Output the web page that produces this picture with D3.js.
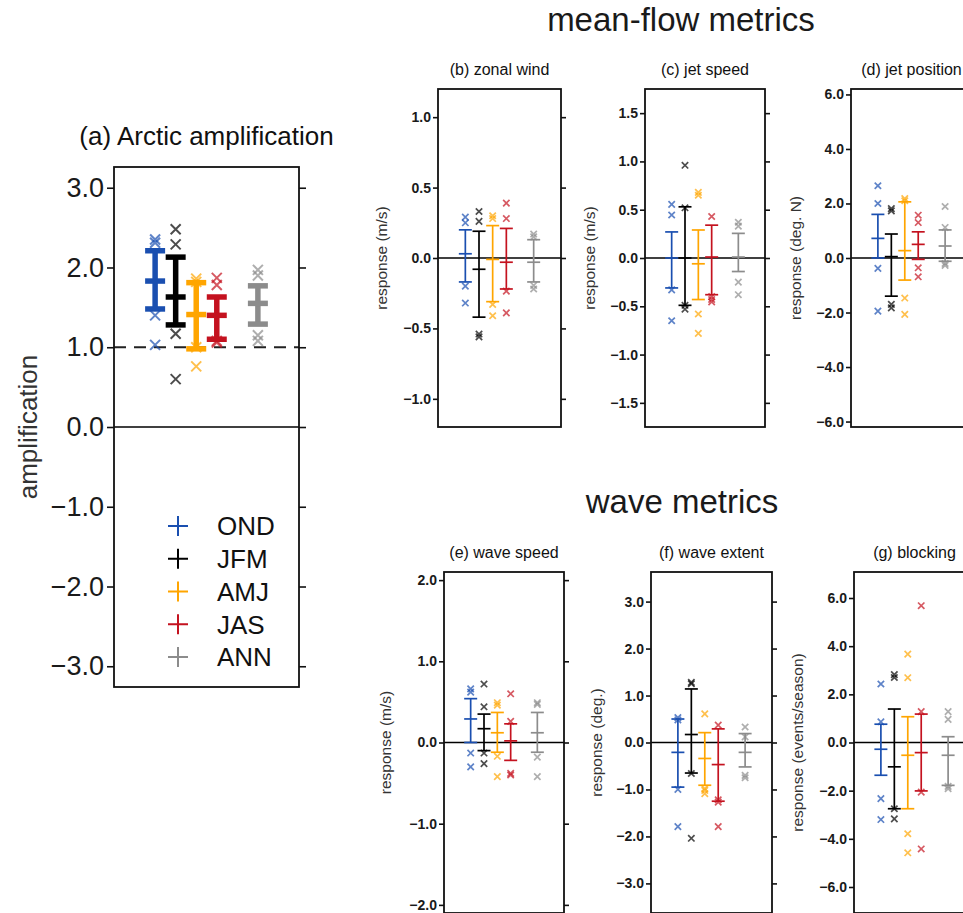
<!DOCTYPE html>
<html>
<head>
<meta charset="utf-8">
<script src="https://cdn.jsdelivr.net/npm/d3@7"></script>
<style>
  body { margin: 0; background: #fff; }
  text { font-family: "Liberation Sans", Arial, Helvetica, sans-serif; }
</style>
</head>
<body>
<div id="chart"></div>
<script>
// seasons and where they sit along the (hidden) x axis
var seasons = ["OND", "JFM", "AMJ", "JAS", "ANN"];
var seasonX = [0, 1, 2, 3, 5];
var seasonColors = ["#1a4fb0", "#000000", "#ffa500", "#c4121f", "#8c8c8c"];

// (a) Arctic amplification
var ampMean = [1.83, 1.63, 1.41, 1.40, 1.55];
var ampLow  = [1.48, 1.28, 0.98, 1.10, 1.29];
var ampHigh = [2.21, 2.13, 1.81, 1.63, 1.77];
var ampPts  = [[2.35, 2.31, 1.40, 1.03], [2.48, 2.29, 1.17, 0.60], [1.86, 1.82, 1.00, 0.76], [1.87, 1.78, 1.08, 1.06], [1.97, 1.90, 1.15, 1.08]];
var ampTicks = [-3, -2, -1, 0, 1, 2, 3];

// (b) zonal wind
var windMean = [0.03, -0.08, -0.01, -0.03, -0.03];
var windLow  = [-0.17, -0.42, -0.31, -0.22, -0.17];
var windHigh = [0.20, 0.19, 0.23, 0.21, 0.13];
var windPts  = [[0.29, 0.25, -0.20, -0.32], [0.33, 0.26, -0.54, -0.56], [0.30, 0.28, -0.33, -0.41], [0.39, 0.28, -0.235, -0.39], [0.17, 0.15, -0.195, -0.22]];
var windTicks = [-1, -0.5, 0, 0.5, 1];

// (c) jet speed
var jetSpdMean = [0.0, 0.0, -0.06, 0.01, 0.01];
var jetSpdLow  = [-0.31, -0.49, -0.43, -0.38, -0.14];
var jetSpdHigh = [0.27, 0.53, 0.29, 0.34, 0.255];
var jetSpdPts  = [[0.555, 0.445, -0.33, -0.65], [0.96, 0.52, -0.49, -0.53], [0.68, 0.65, -0.58, -0.78], [0.43, -0.40, -0.43, -0.455], [0.37, 0.33, -0.25, -0.38]];
var jetSpdTicks = [-1.5, -1, -0.5, 0, 0.5, 1, 1.5];

// (d) jet position
var jetPosMean = [0.72, 0.05, 0.27, 0.50, 0.44];
var jetPosLow  = [0.0, -1.40, -0.81, -0.05, -0.12];
var jetPosHigh = [1.60, 0.88, 2.06, 0.96, 1.03];
var jetPosPts  = [[2.65, 2.0, -0.38, -1.95], [1.81, 1.73, -1.70, -1.83], [2.18, 2.10, -1.47, -2.07], [1.57, 1.30, -0.36, -0.69], [1.89, 1.12, -0.20, -0.27]];
var jetPosTicks = [-6, -4, -2, 0, 2, 4, 6];

// (e) wave speed
var waveSpdMean = [0.29, 0.17, 0.12, 0.02, 0.12];
var waveSpdLow  = [0.0, -0.10, -0.12, -0.22, -0.12];
var waveSpdHigh = [0.54, 0.35, 0.37, 0.23, 0.37];
var waveSpdPts  = [[0.66, 0.62, -0.13, -0.30], [0.72, 0.44, -0.13, -0.26], [0.49, 0.46, -0.17, -0.42], [0.60, 0.26, -0.38, -0.40], [0.49, 0.47, -0.18, -0.42]];
var waveSpdTicks = [-2, -1, 0, 1, 2];

// (f) wave extent
var waveExtMean = [-0.21, 0.17, -0.34, -0.47, -0.21];
var waveExtLow  = [-0.95, -0.65, -0.91, -1.25, -0.52];
var waveExtHigh = [0.50, 1.14, 0.21, 0.29, 0.19];
var waveExtPts  = [[0.53, 0.48, -1.0, -1.79], [1.28, 1.25, -0.66, -2.04], [0.61, -0.98, -1.02, -1.09], [0.37, -1.22, -1.27, -1.79], [0.33, 0.12, -0.70, -0.75]];
var waveExtTicks = [-3, -2, -1, 0, 1, 2, 3];

// (g) blocking
var blockMean = [-0.28, -1.01, -0.53, -0.42, -0.53];
var blockLow  = [-1.36, -2.75, -2.75, -2.01, -1.78];
var blockHigh = [0.76, 1.39, 1.07, 1.18, 0.24];
var blockPts  = [[2.43, 0.86, -2.33, -3.20], [2.82, 2.70, -3.17, -2.75], [3.67, 2.69, -3.79, -4.58], [5.68, 1.28, -2.06, -4.42], [1.28, 0.96, -1.82, -1.92]];
var blockTicks = [-6, -4, -2, 0, 2, 4, 6];

var svg = d3.select("#chart").append("svg")
    .attr("width", 963)
    .attr("height", 913);

var big = {tick: 7, pad: 3, fs: 27, bold: false, lw: 5.5, cap: 10, cross: 5, crossW: 2, border: 1.8, titleFs: 26, labelFs: 26, titleBold: false};
var small = {tick: 5, pad: 2, fs: 14, bold: true, lw: 1.7, cap: 6.5, cross: 3.2, crossW: 1.7, border: 1.8, titleFs: 16, labelFs: 15.5, titleBold: false};

var panels = [
    {st: big, x0: 114, x1: 299, y0: 167, y1: 687, domain: [-3.26, 3.26], ticks: ampTicks, mean: ampMean, lo: ampLow, hi: ampHigh, pts: ampPts,
     title: "(a) Arctic amplification", titleY: 145, ylabel: "amplification", labelX: 28, dashed: 1},
    {st: small, x0: 438, x1: 561, y0: 89, y1: 427, domain: [-1.2, 1.2], ticks: windTicks, mean: windMean, lo: windLow, hi: windHigh, pts: windPts,
     title: "(b) zonal wind", titleY: 75, ylabel: "response (m/s)", labelX: 382},
    {st: small, x0: 645, x1: 765, y0: 89, y1: 427, domain: [-1.75, 1.75], ticks: jetSpdTicks, mean: jetSpdMean, lo: jetSpdLow, hi: jetSpdHigh, pts: jetSpdPts,
     title: "(c) jet speed", titleY: 75, ylabel: "response (m/s)", labelX: 590},
    {st: small, x0: 851, x1: 972, y0: 89, y1: 427, domain: [-6.2, 6.2], ticks: jetPosTicks, mean: jetPosMean, lo: jetPosLow, hi: jetPosHigh, pts: jetPosPts,
     title: "(d) jet position", titleY: 75, ylabel: "response (deg. N)", labelX: 796},
    {st: small, x0: 444, x1: 564, y0: 572, y1: 913, domain: [-2.1, 2.1], ticks: waveSpdTicks, mean: waveSpdMean, lo: waveSpdLow, hi: waveSpdHigh, pts: waveSpdPts,
     title: "(e) wave speed", titleY: 558, ylabel: "response (m/s)", labelX: 386},
    {st: small, x0: 651, x1: 772, y0: 572, y1: 913, domain: [-3.63, 3.63], ticks: waveExtTicks, mean: waveExtMean, lo: waveExtLow, hi: waveExtHigh, pts: waveExtPts,
     title: "(f) wave extent", titleY: 558, ylabel: "response (deg.)", labelX: 597},
    {st: small, x0: 854, x1: 975, y0: 572, y1: 913, domain: [-7.08, 7.08], ticks: blockTicks, mean: blockMean, lo: blockLow, hi: blockHigh, pts: blockPts,
     title: "(g) blocking", titleY: 558, ylabel: "response (events/season)", labelX: 798}
];

panels.forEach(drawPanel);

function drawPanel(p) {
    var s = p.st;
    var x = d3.scaleLinear().domain([-2, 7]).range([p.x0, p.x1]);
    var y = d3.scaleLinear().domain(p.domain).range([p.y1, p.y0]);
    var g = svg.append("g");

    // left axis with labels, right axis ticks only
    g.append("g")
        .attr("transform", "translate(" + p.x0 + ",0)")
        .call(d3.axisLeft(y).tickValues(p.ticks).tickSize(s.tick).tickPadding(s.pad).tickFormat(d3.format(".1f")))
        .call(function(a) { a.select(".domain").remove(); })
        .call(function(a) {
            a.selectAll("line").attr("stroke", "#111").attr("stroke-width", 1.6);
            a.selectAll("text")
                .attr("fill", "#1a1a1a")
                .style("font-size", s.fs + "px")
                .style("font-weight", s.bold ? "bold" : "normal")
                .style("font-family", '"Liberation Sans", Arial, sans-serif');
        });
    g.append("g")
        .attr("transform", "translate(" + p.x1 + ",0)")
        .call(d3.axisRight(y).tickValues(p.ticks).tickSize(s.tick).tickFormat(""))
        .call(function(a) { a.select(".domain").remove(); })
        .call(function(a) { a.selectAll("line").attr("stroke", "#111").attr("stroke-width", 1.6); });

    // zero line and the dashed reference line
    g.append("line")
        .attr("x1", p.x0).attr("x2", p.x1)
        .attr("y1", y(0)).attr("y2", y(0))
        .attr("stroke", "#000").attr("stroke-width", 1.6);
    if (p.dashed !== undefined) {
        g.append("line")
            .attr("x1", p.x0).attr("x2", p.x1)
            .attr("y1", y(p.dashed)).attr("y2", y(p.dashed))
            .attr("stroke", "#222").attr("stroke-width", 1.8)
            .attr("stroke-dasharray", "12,8");
    }

    // individual members as crosses
    seasons.forEach(function(season, i) {
        g.selectAll(null).data(p.pts[i]).enter().append("path")
            .attr("transform", function(d) { return "translate(" + x(seasonX[i]) + "," + y(d) + ")"; })
            .attr("d", "M" + (-s.cross) + "," + (-s.cross) + "L" + s.cross + "," + s.cross +
                       "M" + (-s.cross) + "," + s.cross + "L" + s.cross + "," + (-s.cross))
            .attr("fill", "none")
            .attr("stroke", seasonColors[i])
            .attr("stroke-width", s.crossW)
            .attr("opacity", 0.7);
    });

    // error bars: range and mean
    var bars = g.selectAll(".bar").data(seasons).enter().append("g")
        .attr("stroke", function(d, i) { return seasonColors[i]; })
        .attr("stroke-width", s.lw);
    bars.append("line")
        .attr("x1", function(d, i) { return x(seasonX[i]); })
        .attr("x2", function(d, i) { return x(seasonX[i]); })
        .attr("y1", function(d, i) { return y(p.lo[i]); })
        .attr("y2", function(d, i) { return y(p.hi[i]); });
    [p.lo, p.mean, p.hi].forEach(function(arr) {
        bars.append("line")
            .attr("x1", function(d, i) { return x(seasonX[i]) - s.cap; })
            .attr("x2", function(d, i) { return x(seasonX[i]) + s.cap; })
            .attr("y1", function(d, i) { return y(arr[i]); })
            .attr("y2", function(d, i) { return y(arr[i]); });
    });

    // panel box
    g.append("rect")
        .attr("x", p.x0).attr("y", p.y0)
        .attr("width", p.x1 - p.x0).attr("height", p.y1 - p.y0)
        .attr("fill", "none").attr("stroke", "#111").attr("stroke-width", s.border);

    // titles
    g.append("text")
        .attr("x", (p.x0 + p.x1) / 2).attr("y", p.titleY)
        .attr("text-anchor", "middle")
        .attr("fill", "#111")
        .style("font-size", s.titleFs + "px")
        .style("font-weight", s.titleBold ? "bold" : "normal")
        .text(p.title);
    g.append("text")
        .attr("transform", "translate(" + p.labelX + "," + y(0) + ") rotate(-90)")
        .attr("text-anchor", "middle")
        .attr("dy", "0.35em")
        .attr("fill", "#333")
        .style("font-size", s.labelFs + "px")
        .text(p.ylabel);
}

// legend inside panel (a)
var legend = svg.append("g");
var legendY = d3.scalePoint().domain(seasons).range([526, 657]);
seasons.forEach(function(season, i) {
    var cy = legendY(season);
    legend.append("path")
        .attr("d", "M168," + cy + "H188M178," + (cy - 10) + "V" + (cy + 10))
        .attr("stroke", seasonColors[i]).attr("stroke-width", 2);
    legend.append("text")
        .attr("x", 217).attr("y", cy)
        .attr("dy", "0.36em")
        .attr("fill", "#111")
        .style("font-size", "26px")
        .text(season);
});

// group headings
svg.append("text")
    .attr("x", 681).attr("y", 31)
    .attr("text-anchor", "middle")
    .attr("fill", "#1a1a1a")
    .style("font-size", "33px")
    .text("mean-flow metrics");
svg.append("text")
    .attr("x", 682).attr("y", 513)
    .attr("text-anchor", "middle")
    .attr("fill", "#1a1a1a")
    .style("font-size", "33px")
    .text("wave metrics");
</script>
</body>
</html>
